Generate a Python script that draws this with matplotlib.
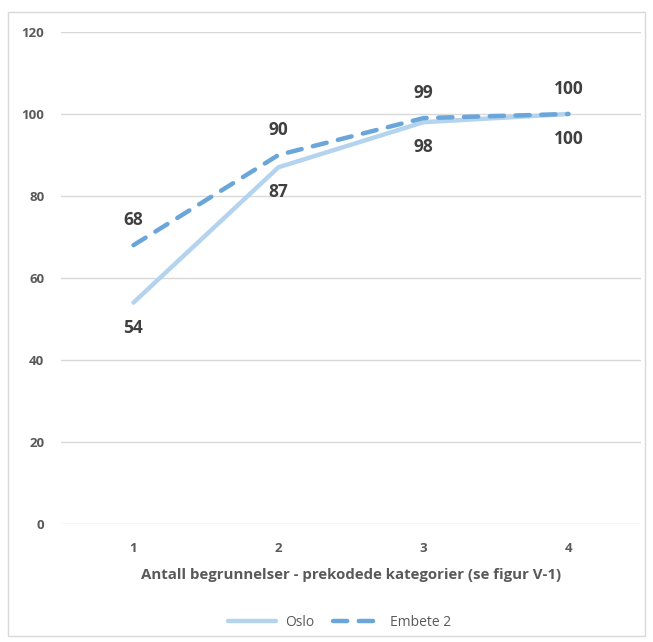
import matplotlib
matplotlib.use("Agg")
import matplotlib.pyplot as plt
from matplotlib.patches import Rectangle

categories = ["1", "2", "3", "4"]
oslo = [54, 87, 98, 100]
embete2 = [68, 90, 99, 100]
y_ticks = [0, 20, 40, 60, 80, 100, 120]

plt.rcParams["font.family"] = ["Open Sans", "DejaVu Sans"]

fig = plt.figure(figsize=(6.53, 6.42), dpi=100)
ax = fig.add_axes([0.0934, 0.1838, 0.8882, 0.7664])

# chart border
fig.patches.append(Rectangle((0.013, 0.01), 0.975, 0.972, transform=fig.transFigure,
                             fill=False, edgecolor="#d9d9d9", linewidth=1))

x = list(range(len(categories)))
ax.plot(x, oslo, color="#b4d3ee", linewidth=3.2, solid_capstyle="round", label="Oslo")
ax.plot(x, embete2, color="#6aa6d9", linewidth=3.2, linestyle=(0, (3.2, 2.6)),
        dash_capstyle="round", label="Embete 2")

label_style = dict(ha="center", va="center", fontsize=12.5, fontweight="bold", color="#404040")
for i, v in enumerate(oslo):
    ax.annotate(str(v), (i, v), xytext=(0, -18), textcoords="offset points", **label_style)
for i, v in enumerate(embete2):
    ax.annotate(str(v), (i, v), xytext=(0, 18), textcoords="offset points", **label_style)

ax.set_xlim(-0.5, len(categories) - 0.5)
ax.set_ylim(0, 120)
ax.set_yticks(y_ticks)
ax.set_yticklabels([str(t) for t in y_ticks], fontweight="bold")
ax.set_xticks(x)
ax.set_xticklabels(categories, fontweight="bold")
ax.tick_params(axis="both", length=0, labelsize=9.5, labelcolor="#595959")
ax.tick_params(axis="y", pad=12)
ax.tick_params(axis="x", pad=13)
ax.grid(True, axis="y", color="#d9d9d9", linewidth=1)
ax.set_axisbelow(True)
for s in ax.spines.values():
    s.set_visible(False)

ax.set_xlabel("Antall begrunnelser - prekodede kategorier (se figur V-1)",
              fontsize=10.8, fontweight="bold", color="#595959", labelpad=9)

leg = fig.legend(loc="center", bbox_to_anchor=(0.52, 0.031), ncol=2, frameon=False,
                 fontsize=10, handlelength=3.4, columnspacing=1.3, handletextpad=0.7)
for t in leg.get_texts():
    t.set_color("#595959")

fig.savefig("out.png", dpi=100)
